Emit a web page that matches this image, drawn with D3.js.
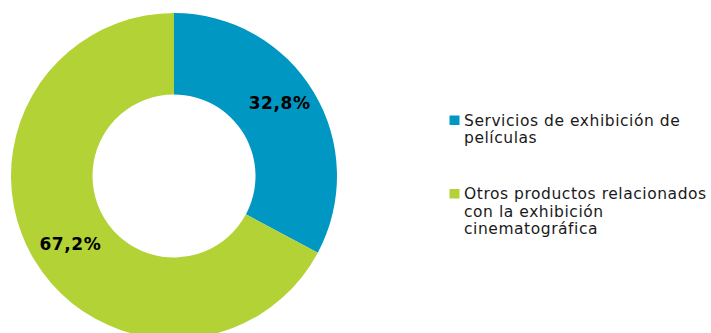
<!DOCTYPE html>
<html>
<head>
<meta charset="utf-8">
<script src="https://cdn.jsdelivr.net/npm/d3@7"></script>
<style>
  html, body { margin: 0; padding: 0; background: #fff; }
  svg { display: block; }
</style>
</head>
<body>
<svg id="chart" width="711" height="333"></svg>
<script>
// Share of revenue by product type (percent)
const categories = [
  "Servicios de exhibición de películas",
  "Otros productos relacionados con la exhibición cinematográfica"
];
const values = [32.8, 67.2];
const valueLabels = ["32,8%", "67,2%"];
const colors = ["#0097c3", "#b3d236"];
// Legend text broken into display lines
const legendLines = [
  ["Servicios de exhibición de", "películas"],
  ["Otros productos relacionados", "con la exhibición", "cinematográfica"]
];

const svg = d3.select("#chart");
const cx = 174, cy = 176, outerR = 163, innerR = 81.5;

const pie = d3.pie().sort(null).value(d => d)(values);
const arc = d3.arc().innerRadius(innerR).outerRadius(outerR);
const labelArc = d3.arc().innerRadius(122).outerRadius(122);

const g = svg.append("g").attr("transform", `translate(${cx},${cy})`);

g.selectAll("path")
  .data(pie)
  .join("path")
  .attr("d", arc)
  .attr("fill", (d, i) => colors[i]);

const labelShift = [-10, 5];
g.selectAll("text.val")
  .data(pie)
  .join("text")
  .attr("class", "val")
  .attr("x", d => labelArc.centroid(d)[0] + 1)
  .attr("y", (d, i) => labelArc.centroid(d)[1] + labelShift[i])
  .attr("text-anchor", "middle")
  .attr("dominant-baseline", "central")
  .attr("font-family", "DejaVu Sans, Verdana, sans-serif")
  .attr("font-weight", "bold")
  .attr("font-size", 17)
  .attr("letter-spacing", 0.6)
  .attr("fill", "#000")
  .text((d, i) => valueLabels[i]);

// Legend
const legendTop = [125.5, 199];
const lg = svg.append("g");
categories.forEach((c, i) => {
  const item = lg.append("g").attr("transform", `translate(449.5,${legendTop[i]})`);
  item.append("rect")
    .attr("x", 0).attr("y", -10)
    .attr("width", 10).attr("height", 9.5)
    .attr("fill", colors[i]);
  const t = item.append("text")
    .attr("font-family", "DejaVu Sans, Verdana, sans-serif")
    .attr("font-size", 15.5)
    .attr("letter-spacing", 0.55)
    .attr("fill", "#1a1a1a");
  legendLines[i].forEach((line, j) => {
    t.append("tspan").attr("x", 14.5).attr("y", j * 17.5).text(line);
  });
});
</script>
</body>
</html>
